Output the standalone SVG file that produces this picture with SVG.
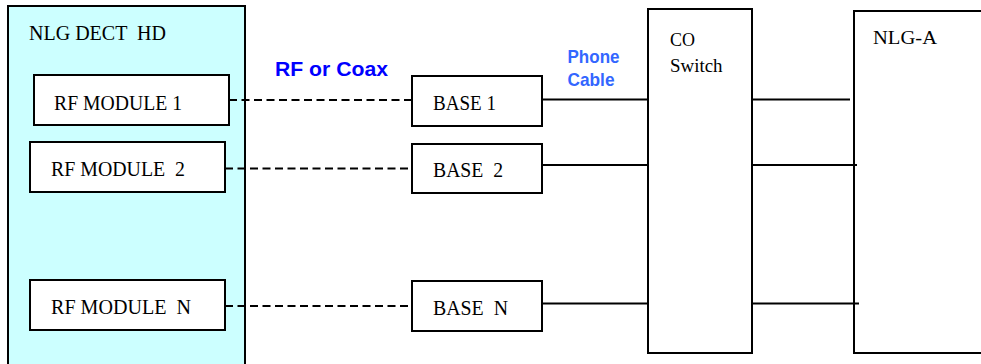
<svg xmlns="http://www.w3.org/2000/svg" width="981" height="364" viewBox="0 0 981 364" xml:space="preserve">
<style>
.box{fill:#fff;stroke:#000;stroke-width:2}
.outer{fill:#ccffff;stroke:#000;stroke-width:2}
.t{font-family:"Liberation Serif","Times New Roman",serif;fill:#000;white-space:pre}
.dash{stroke:#000;stroke-width:2;stroke-dasharray:8 4.5;fill:none}
.solid{stroke:#000;stroke-width:2;fill:none}
.lbl{font-family:"Liberation Sans",Arial,sans-serif;font-weight:bold}
</style>
<rect width="981" height="364" fill="#fff"/>
<g id="nlg-dect-hd">
<rect class="outer" x="8" y="6" width="237" height="370"/>
<text class="t" x="29" y="40" font-size="21" textLength="137" lengthAdjust="spacingAndGlyphs">NLG DECT  HD</text>
</g>
<g id="rf-module-1">
<rect class="box" x="34" y="75" width="195" height="50"/>
<text class="t" x="54" y="110" font-size="22" textLength="128" lengthAdjust="spacingAndGlyphs">RF MODULE 1</text>
</g>
<g id="rf-module-2">
<rect class="box" x="30" y="142" width="195" height="50"/>
<text class="t" x="51" y="176" font-size="22" textLength="134" lengthAdjust="spacingAndGlyphs">RF MODULE  2</text>
</g>
<g id="rf-module-n">
<rect class="box" x="30" y="280" width="195" height="50"/>
<text class="t" x="51" y="314" font-size="22" textLength="140" lengthAdjust="spacingAndGlyphs">RF MODULE  N</text>
</g>
<g id="base-1">
<rect class="box" x="412" y="76" width="130" height="50"/>
<text class="t" x="433" y="110" font-size="21" textLength="63" lengthAdjust="spacingAndGlyphs">BASE 1</text>
</g>
<g id="base-2">
<rect class="box" x="412" y="144" width="130" height="49"/>
<text class="t" x="433" y="177" font-size="21" textLength="70" lengthAdjust="spacingAndGlyphs">BASE  2</text>
</g>
<g id="base-n">
<rect class="box" x="412" y="281" width="130" height="50"/>
<text class="t" x="433" y="315" font-size="21" textLength="75" lengthAdjust="spacingAndGlyphs">BASE  N</text>
</g>
<g id="co-switch">
<rect class="box" x="648" y="9" width="104" height="344"/>
<text class="t" x="670" y="45.5" font-size="18" textLength="25" lengthAdjust="spacingAndGlyphs">CO</text>
<text class="t" x="670" y="71.5" font-size="18" textLength="52.5" lengthAdjust="spacingAndGlyphs">Switch</text>
</g>
<g id="nlg-a">
<rect class="box" x="854" y="11" width="140" height="342"/>
<text class="t" x="873" y="43.5" font-size="18" textLength="64" lengthAdjust="spacingAndGlyphs">NLG-A</text>
</g>
<g id="connectors">
<line class="dash" x1="229" y1="100" x2="412" y2="100"/>
<line class="dash" x1="225" y1="168.5" x2="412" y2="168.5"/>
<line class="dash" x1="225" y1="306" x2="412" y2="306"/>
<line class="solid" x1="542" y1="99.5" x2="648" y2="99.5"/>
<line class="solid" x1="542" y1="165" x2="648" y2="165"/>
<line class="solid" x1="542" y1="303.5" x2="648" y2="303.5"/>
<line class="solid" x1="752" y1="99.5" x2="850" y2="99.5"/>
<line class="solid" x1="752" y1="165" x2="857" y2="165"/>
<line class="solid" x1="752" y1="303.5" x2="859" y2="303.5"/>
</g>
<g id="labels">
<text class="lbl" x="275" y="76" font-size="19.5" fill="#0000ff" textLength="113" lengthAdjust="spacingAndGlyphs">RF or Coax</text>
<text class="lbl" x="567.5" y="62.5" font-size="19" fill="#3366ff" textLength="52" lengthAdjust="spacingAndGlyphs">Phone</text>
<text class="lbl" x="567.5" y="86" font-size="19" fill="#3366ff" textLength="47" lengthAdjust="spacingAndGlyphs">Cable</text>
</g>
</svg>
